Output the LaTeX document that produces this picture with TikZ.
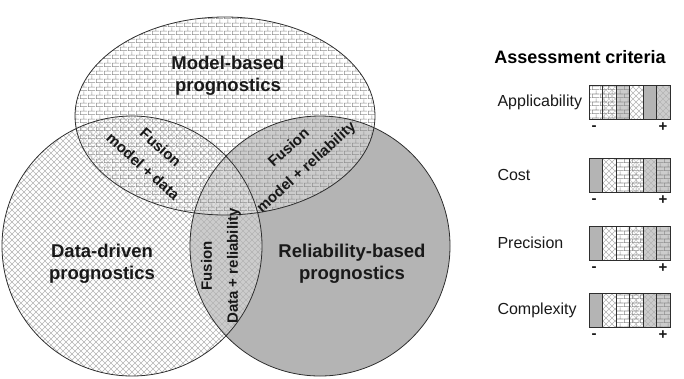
\documentclass[tikz,border=0pt]{standalone}
\usepackage{fontspec}
\setmainfont{Liberation Sans}
\usetikzlibrary{patterns}

\pgfdeclarepatternformonly{mybricks}{\pgfpointorigin}{\pgfpoint{8pt}{8pt}}{\pgfpoint{8pt}{8pt}}{%
  \pgfsetlinewidth{0.7pt}%
  \pgfpathmoveto{\pgfpoint{0pt}{0.4pt}}\pgfpathlineto{\pgfpoint{8pt}{0.4pt}}%
  \pgfpathmoveto{\pgfpoint{0pt}{4.4pt}}\pgfpathlineto{\pgfpoint{8pt}{4.4pt}}%
  \pgfpathmoveto{\pgfpoint{0.4pt}{0.4pt}}\pgfpathlineto{\pgfpoint{0.4pt}{4.4pt}}%
  \pgfpathmoveto{\pgfpoint{4.4pt}{4.4pt}}\pgfpathlineto{\pgfpoint{4.4pt}{8.4pt}}%
  \pgfusepath{stroke}}

\pgfdeclarepatternformonly{mydiamonds}{\pgfpoint{-0.5pt}{-0.5pt}}{\pgfpoint{6.5pt}{6.5pt}}{\pgfpoint{6pt}{6pt}}{%
  \pgfsetlinewidth{0.55pt}%
  \pgfpathmoveto{\pgfpoint{0pt}{0pt}}\pgfpathlineto{\pgfpoint{6pt}{6pt}}%
  \pgfpathmoveto{\pgfpoint{0pt}{6pt}}\pgfpathlineto{\pgfpoint{6pt}{0pt}}%
  \pgfusepath{stroke}}

\definecolor{relgray}{HTML}{B4B4B4}
\definecolor{brickgray}{HTML}{8C8C8C}
\definecolor{hatchgray}{HTML}{B4B4B4}
\definecolor{edgecol}{HTML}{2E2E2E}

\tikzset{
  mainlbl/.style={font=\bfseries\fontsize{18.5}{22}\selectfont, align=center, text=black!90},
  fuslbl/.style={font=\bfseries\fontsize{15}{26}\selectfont, align=center, text=black!90},
  titlelbl/.style={font=\bfseries\fontsize{18}{22}\selectfont, text=black},
  critlbl/.style={font=\fontsize{16}{19}\selectfont, anchor=west, text=black!90},
  signlbl/.style={font=\bfseries\fontsize{15}{18}\selectfont, text=black!90},
  outline/.style={draw=edgecol, line width=0.8pt},
  whiteveil/.style={fill=white, fill opacity=0.32},
  bricksfill/.style={pattern=mybricks, pattern color=brickgray},
  hatchfill/.style={pattern=mydiamonds, pattern color=hatchgray},
  cellbox/.style={draw=edgecol, line width=1pt}
}

\newcommand\vcbase[3]{\fill[#1] (#2,#3) rectangle ++(13.5,34);}
\newcommand\vclayD[2]{\fill[whiteveil] (#1,#2) rectangle ++(13.5,34); \fill[hatchfill] (#1,#2) rectangle ++(13.5,34);}
\newcommand\vclayM[2]{\fill[whiteveil] (#1,#2) rectangle ++(13.5,34); \fill[bricksfill] (#1,#2) rectangle ++(13.5,34);}
\newcommand\vcM[2]{\vcbase{white}{#1}{#2}\vclayM{#1}{#2}}
\newcommand\vcMD[2]{\vcbase{white}{#1}{#2}\vclayD{#1}{#2}\vclayM{#1}{#2}}
\newcommand\vcMR[2]{\vcbase{relgray}{#1}{#2}\vclayM{#1}{#2}}
\newcommand\vcD[2]{\vcbase{white}{#1}{#2}\vclayD{#1}{#2}}
\newcommand\vcR[2]{\vcbase{relgray}{#1}{#2}}
\newcommand\vcDR[2]{\vcbase{relgray}{#1}{#2}\vclayD{#1}{#2}}

\begin{document}
\begin{tikzpicture}[x=1pt,y=-1pt]
\useasboundingbox (0,0) rectangle (684,378);

% Reliability circle
\fill[relgray] (320,246) circle[radius=130];
% Data circle
\fill[whiteveil] (132,246) circle[radius=130];
\fill[hatchfill] (132,246) circle[radius=130];
% Model ellipse
\fill[whiteveil] (225,116) ellipse[x radius=150, y radius=99];
\fill[bricksfill] (225,116) ellipse[x radius=150, y radius=99];
% outlines
\draw[outline] (320,246) circle[radius=130];
\draw[outline] (132,246) circle[radius=130];
\draw[outline] (225,116) ellipse[x radius=150, y radius=99];

% labels
\node[mainlbl] (model) at (228,76) {Model-based\\prognostics};
\node[mainlbl] (data) at (102,264) {Data-driven\\prognostics};
\node[mainlbl] (rel) at (352,264) {Reliability-based\\prognostics};
\node[fuslbl, rotate=-42] (fmd) at (152,157) {Fusion\\model + data};
\node[fuslbl, rotate=42] (fmr) at (298,158) {Fusion\\model + reliability};
\node[fuslbl, rotate=90] (fdr) at (221,266) {Fusion\\Data + reliability};

% legend
\node[titlelbl] (title) at (580,57) {Assessment criteria};
\node[critlbl] (lapp) at (494,102) {Applicability};
\node[critlbl] (lcost) at (494,175) {Cost};
\node[critlbl] (lprec) at (494,243) {Precision};
\node[critlbl] (lcomp) at (494,310) {Complexity};

\foreach \t [count=\i from 0] in {M,MD,MR,D,R,DR} {
  \pgfmathsetmacro\xx{589+13.5*\i}
  \csname vc\t\endcsname{\xx}{85}
  \draw[cellbox] (\xx,85) rectangle ++(13.5,34);
}
\foreach \yy in {158,226,293} {
  \foreach \t [count=\i from 0] in {R,D,M,MD,DR,MR} {
    \pgfmathsetmacro\xx{589+13.5*\i}
    \csname vc\t\endcsname{\xx}{\yy}
    \draw[cellbox] (\xx,\yy) rectangle ++(13.5,34);
  }
}
\foreach \yy/\nm in {119/a,192/b,260/c,327/d} {
  \node[signlbl] (minus\nm) at (594,\yy+9) {-};
  \node[signlbl] (plus\nm) at (663,\yy+8) {+};
}
\end{tikzpicture}
\end{document}
